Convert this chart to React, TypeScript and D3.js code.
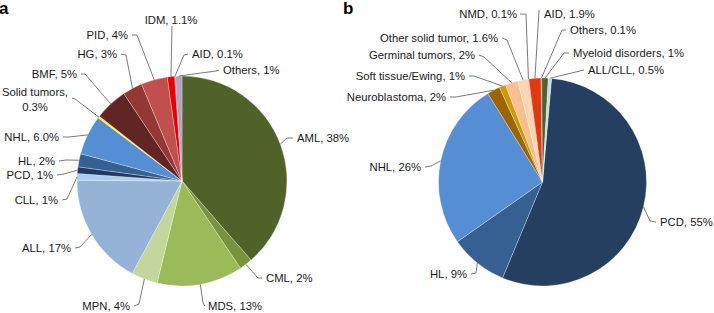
import React from "react";
import * as d3 from "d3";

const catsA = ["AML", "CML", "MDS", "MPN", "ALL", "CLL", "PCD", "HL", "NHL", "Solid tumors", "BMF", "HG", "PID", "IDM", "AID", "Others"];
const valsA = [38, 2, 13, 4, 17, 1, 1, 2, 6.0, 0.3, 5, 3, 4, 1.1, 0.1, 1];
const lblA = ["AML, 38%", "CML, 2%", "MDS, 13%", "MPN, 4%", "ALL, 17%", "CLL, 1%", "PCD, 1%", "HL, 2%", "NHL, 6.0%", "Solid tumors,|0.3%", "BMF, 5%", "HG, 3%", "PID, 4%", "IDM, 1.1%", "AID, 0.1%", "Others, 1%"];
const colA = ["#4f6228", "#77933c", "#9bbb59", "#c3d69b", "#95b3d7", "#a9cdf3", "#1f3864", "#376092", "#558ed5", "#ffff00", "#632523", "#953735", "#c0504d", "#e60000", "#a00000", "#b3a2c7"];

const catsB = ["PCD", "HL", "NHL", "Neuroblastoma", "Soft tissue/Ewing", "Germinal tumors", "Other solid tumor", "NMD", "AID", "Others", "Myeloid disorders", "ALL/CLL"];
const valsB = [55, 9, 26, 2, 1, 2, 1.6, 0.1, 1.9, 0.1, 1, 0.5];
const lblB = ["PCD, 55%", "HL, 9%", "NHL, 26%", "Neuroblastoma, 2%", "Soft tissue/Ewing, 1%", "Germinal tumors, 2%", "Other solid tumor, 1.6%", "NMD, 0.1%", "AID, 1.9%", "Others, 0.1%", "Myeloid disorders, 1%", "ALL/CLL, 0.5%"];
const colB = ["#243f60", "#376092", "#558ed5", "#9c6500", "#cc9a06", "#fabf8f", "#fcd5b4", "#c0504d", "#e2380b", "#7f7f7f", "#4f6228", "#c6d9f1"];

// layout: [textX, textY, anchor, startX, startY, kneeX, kneeY]
type L = [number, number, string, number, number, number, number];
const layA: L[] = [
  [297, 138, "start", 293, 138, 287, 138],
  [266, 278, "start", 262, 278, 258, 278],
  [208, 306, "start", 205, 306, 203, 303],
  [130, 306, "end", 134, 306, 139, 304],
  [71, 248, "end", 75, 248, 80, 247],
  [58, 200, "end", 62, 200, 67, 199],
  [53, 175, "end", 57, 175, 64, 174],
  [55, 161, "end", 59, 161, 66, 160],
  [59, 137, "end", 63, 137, 69, 137],
  [35, 92, "middle", 72, 98, 75, 99],
  [77, 74, "end", 81, 74, 85, 74],
  [117, 54, "end", 121, 54, 126, 55],
  [128, 35, "end", 132, 35, 137, 35],
  [171, 20, "middle", 172, 26, 172, 27],
  [192, 54, "start", 188, 54, 184, 55],
  [223, 70, "start", 219, 70, 216, 71],
];
const layB: L[] = [
  [660, 222, "start", 656, 222, 650, 221],
  [467, 274, "end", 471, 274, 476, 273],
  [421, 167, "end", 425, 167, 431, 166],
  [446, 97, "end", 450, 97, 456, 97],
  [465, 76, "end", 469, 76, 474, 76],
  [475, 55, "end", 479, 55, 484, 57],
  [498, 38, "end", 502, 38, 507, 40],
  [517, 14, "end", 520, 14, 526, 14],
  [544, 14, "start", 539, 10, 539, 11],
  [570, 30, "start", 566, 30, 562, 30],
  [573, 53, "start", 569, 53, 564, 53],
  [588, 70, "start", 584, 70, 584, 70],
];

function Pie({ cx, cy, r, vals, cols, labels, lay, offset }: any) {
  const pie = d3.pie<number>().sort(null).value((d) => d).startAngle(offset).endAngle(offset + 2 * Math.PI);
  const arcs = pie(vals);
  const arc = d3.arc<d3.PieArcDatum<number>>().innerRadius(0).outerRadius(r);
  return (
    <g>
      <g transform={`translate(${cx},${cy})`}>
        {arcs.map((a, i) => (
          <path key={i} d={arc(a) || ""} fill={cols[i]} stroke="#ffffff" strokeWidth={0.4} strokeOpacity={0.7} />
        ))}
      </g>
      {arcs.map((a, i) => {
        const m = (a.startAngle + a.endAngle) / 2;
        const ex = cx + r * Math.sin(m);
        const ey = cy - r * Math.cos(m);
        const [tx, ty, anc, sx, sy, kx, ky] = lay[i];
        const parts = labels[i].split("|");
        return (
          <g key={i}>
            <polyline points={`${sx},${sy} ${kx},${ky} ${ex},${ey}`} fill="none" stroke="#6b6b6b" strokeWidth={0.9} />
            {parts.map((p: string, j: number) => (
              <text key={j} x={tx} y={ty + j * 15} textAnchor={anc} dominantBaseline="central" fontSize={11.3} fill="#1a1a1a" fontFamily="'Liberation Sans', Arial, Helvetica, sans-serif">
                {p}
              </text>
            ))}
          </g>
        );
      })}
    </g>
  );
}

export default function App() {
  return (
    <svg width={714} height={313} style={{ position: "absolute", left: 0, top: 0, background: "#fff" }}>
      <rect width={714} height={313} fill="#fff" />
      <text x={-1} y={14} fontSize={17} fontWeight="bold" fontFamily="'Liberation Sans', Arial, sans-serif">a</text>
      <text x={343} y={14} fontSize={17} fontWeight="bold" fontFamily="'Liberation Sans', Arial, sans-serif">b</text>
      <Pie cx={182} cy={181} r={105} vals={valsA} cols={colA} labels={lblA} lay={layA} offset={0} />
      <Pie cx={542.5} cy={182} r={104} vals={valsB} cols={colB} labels={lblB} lay={layB} offset={(5 * Math.PI) / 180} />
    </svg>
  );
}
